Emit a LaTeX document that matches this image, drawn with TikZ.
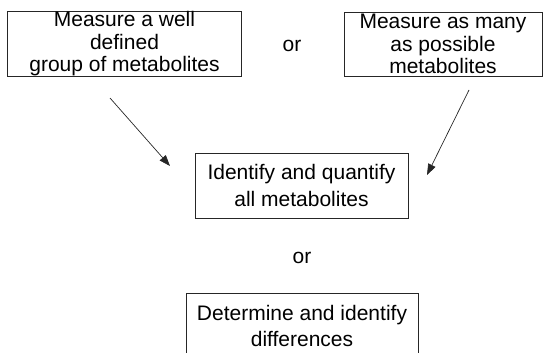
\documentclass[tikz,border=0pt]{standalone}
\usepackage{fontspec}
\setmainfont{Liberation Sans}
\usetikzlibrary{arrows.meta}
\begin{document}
\begin{tikzpicture}[x=1pt,y=-1pt,
  box/.style={draw=black!85,line width=0.8pt,align=center,inner sep=0pt,
    font=\fontsize{21}{22.5}\selectfont},
  lbl/.style={font=\fontsize{21}{22.5}\selectfont,inner sep=0pt},
  arr/.style={draw=black!85,line width=0.7pt,-{Triangle[length=11pt,width=8pt]}}]
\useasboundingbox (0,0) rectangle (544,353);
\clip (0,0) rectangle (544,353);
\node[box,minimum width=234pt,minimum height=65pt] (m1) at (124.5,44)
  {Measure a well\\defined\\group of metabolites};
\node[box,minimum width=198pt,minimum height=64pt] (m2) at (443,44)
  {Measure as many\\as possible\\metabolites};
\node[lbl] (or1) at (292,46) {or};
\node[box,minimum width=213pt,minimum height=65pt] (iq) at (301.5,185.5)
  {Identify and quantify\\[4pt]all metabolites};
\node[lbl] (or2) at (302,258) {or};
\node[box,minimum width=232pt,minimum height=65pt,anchor=north] (di) at (302,293)
  {Determine and identify\\[3pt]differences};
\coordinate (a1s) at (110,98);
\coordinate (a1e) at (170,166);
\coordinate (a2s) at (469,90);
\coordinate (a2e) at (427,175);
\draw[arr] (a1s) -- (a1e);
\draw[arr] (a2s) -- (a2e);
\end{tikzpicture}
\end{document}
